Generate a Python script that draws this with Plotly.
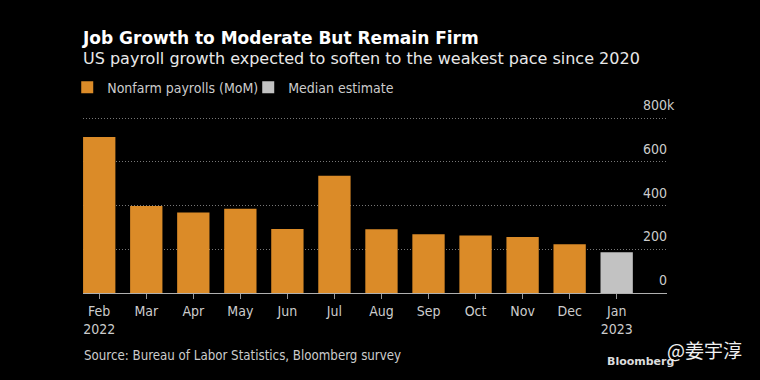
import plotly.graph_objects as go

months = ["Feb", "Mar", "Apr", "May", "Jun", "Jul", "Aug", "Sep", "Oct", "Nov", "Dec", "Jan"]
tick_labels = ["Feb<br>2022", "Mar", "Apr", "May", "Jun", "Jul", "Aug", "Sep", "Oct", "Nov", "Dec", "Jan<br>2023"]
payroll_months = months[:11]
payroll_values = [714, 398, 368, 386, 293, 537, 292, 269, 263, 256, 223]
estimate_months = months[11:]
estimate_values = [187]
y_ticks = [0, 200, 400, 600, 800]
y_tick_text = ["0", "200", "400", "600", "800k"]

ORANGE = "#DB8B28"
GRAY = "#C2C2C2"
COND = "DejaVu Sans Condensed, DejaVu Sans, sans-serif"
LABEL = "#CCCCCC"

fig = go.Figure()
fig.add_trace(go.Bar(x=payroll_months, y=payroll_values, name="Nonfarm payrolls (MoM)",
                     marker=dict(color=ORANGE, line=dict(width=0))))
fig.add_trace(go.Bar(x=estimate_months, y=estimate_values, name="Median estimate",
                     marker=dict(color=GRAY, line=dict(width=0))))

# y tick labels sit above their gridlines, right-aligned at the plot's right edge
y_label_annotations = [
    dict(text=t, xref="paper", yref="y", x=1.0, y=v, xanchor="right", yanchor="bottom",
         xshift=(10 if t.endswith("k") else 2), yshift=3, showarrow=False,
         font=dict(family=COND, size=14, color=LABEL))
    for v, t in zip(y_ticks, y_tick_text)
]

fig.update_layout(
    width=760, height=380,
    paper_bgcolor="#000000", plot_bgcolor="#000000",
    margin=dict(l=83, r=93, t=116, b=87),
    barmode="overlay", bargap=0.313,
    title=dict(
        text="<b>Job Growth to Moderate But Remain Firm</b>",
        font=dict(family="DejaVu Sans, sans-serif", size=17, color="#FFFFFF"),
        xref="container", x=83/760, xanchor="left",
        yref="container", y=1 - 38/380, yanchor="middle",
        pad=dict(l=0, r=0, t=0, b=0),
    ),
    showlegend=True,
    legend=dict(orientation="h", x=-0.027, xanchor="left", y=1.16, yanchor="middle",
                font=dict(family=COND, size=14, color=LABEL),
                bgcolor="rgba(0,0,0,0)", itemwidth=30, traceorder="normal",
                entrywidth=136, entrywidthmode="pixels"),
    xaxis=dict(
        type="category", categoryorder="array", categoryarray=months,
        range=[-0.345, 12.07],
        tickvals=months, ticktext=tick_labels,
        ticks="outside", ticklen=5, tickcolor="#999999", tickwidth=1,
        showline=True, linecolor="#B0B0B0", linewidth=1,
        showgrid=False, zeroline=False,
        tickfont=dict(family=COND, size=14, color=LABEL),
    ),
    yaxis=dict(
        range=[0, 810], side="right",
        tickvals=y_ticks, showticklabels=False,
        showgrid=True, gridcolor="#777777", griddash="1px,2px", gridwidth=1,
        zeroline=False, showline=False, ticks="",
    ),
    annotations=y_label_annotations + [
        dict(text="US payroll growth expected to soften to the weakest pace since 2020",
             xref="paper", yref="paper", x=0, y=1.323, xanchor="left", yanchor="middle",
             xshift=-2, showarrow=False,
             font=dict(family="DejaVu Sans, sans-serif", size=16, color="#E8E8E8")),
        dict(text="Source: Bureau of Labor Statistics, Bloomberg survey",
             xref="paper", yref="paper", x=0, y=-0.355, xanchor="left", yanchor="middle",
             xshift=-1, showarrow=False, font=dict(family=COND, size=13.2, color=LABEL)),
        dict(text="<b>Bloomberg</b>", xref="paper", yref="paper", x=0.954, y=-0.385,
             xanchor="center", yanchor="middle", showarrow=False,
             font=dict(family="DejaVu Sans, sans-serif", size=11, color="#DDDDDD")),
        dict(text="@姜宇淳", xref="paper", yref="paper", x=1.065, y=-0.32,
             xanchor="center", yanchor="middle", showarrow=False,
             font=dict(family="Noto Sans CJK SC, sans-serif", size=19, color="#F0F0F0")),
    ],
)

fig.write_html("out.html", config={"displayModeBar": False},
               post_script="document.body.style.margin='0';document.body.style.background='#000';")
